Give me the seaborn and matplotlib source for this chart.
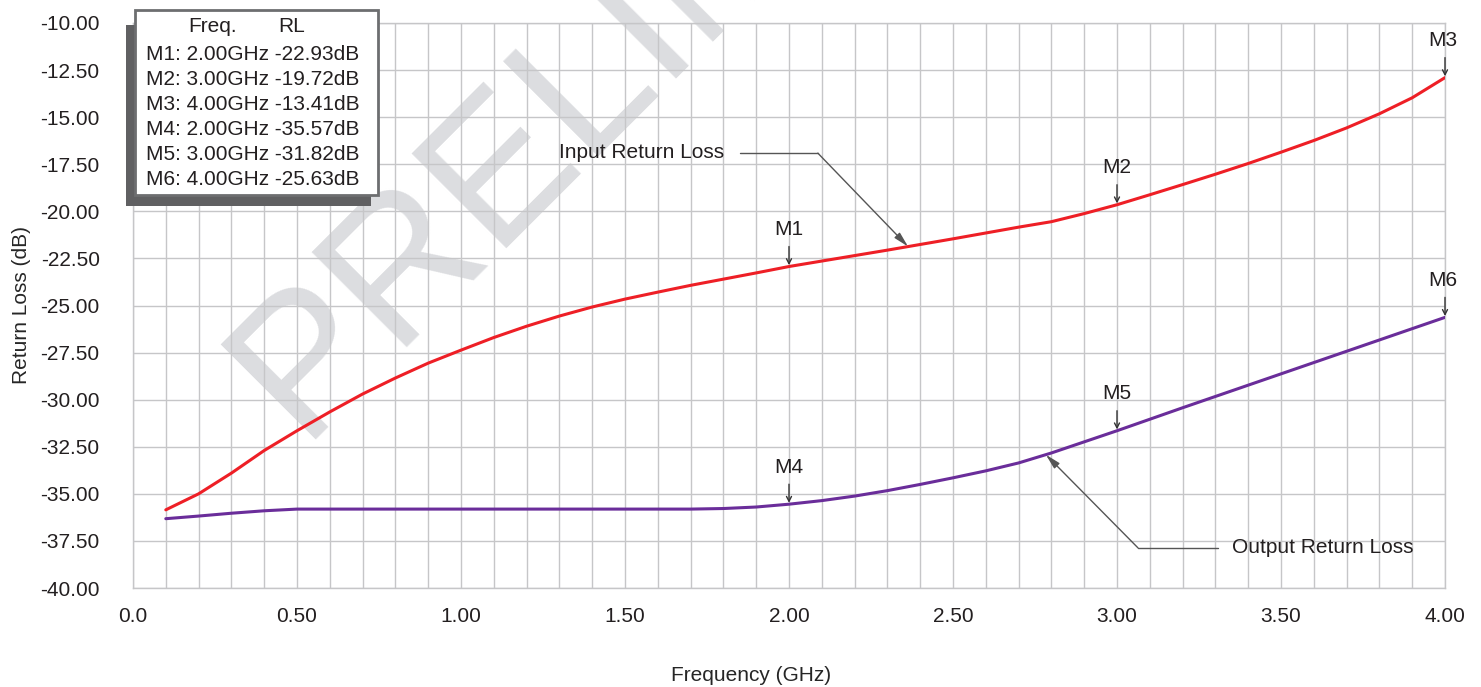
import numpy as np
import pandas as pd
import matplotlib
matplotlib.use('Agg')
import matplotlib.pyplot as plt
import seaborn as sns
from matplotlib.patches import Rectangle

# Datos (frecuencia en GHz, perdidas de retorno en dB)
freq = [0.1, 0.2, 0.3, 0.4, 0.5, 0.6, 0.7, 0.8, 0.9, 1.0,
        1.1, 1.2, 1.3, 1.4, 1.5, 1.6, 1.7, 1.8, 1.9, 2.0,
        2.1, 2.2, 2.3, 2.4, 2.5, 2.6, 2.7, 2.8, 2.9, 3.0,
        3.1, 3.2, 3.3, 3.4, 3.5, 3.6, 3.7, 3.8, 3.9, 4.0]
input_rl = [-35.85, -35.00, -33.90, -32.70, -31.65, -30.65, -29.70, -28.85, -28.06, -27.37,
            -26.70, -26.10, -25.56, -25.08, -24.66, -24.29, -23.93, -23.60, -23.27, -22.93,
            -22.64, -22.35, -22.06, -21.76, -21.46, -21.15, -20.84, -20.55, -20.12, -19.65,
            -19.12, -18.58, -18.03, -17.46, -16.86, -16.24, -15.57, -14.82, -13.97, -12.90]
output_rl = [-36.32, -36.18, -36.03, -35.90, -35.81, -35.81, -35.81, -35.81, -35.81, -35.81,
             -35.81, -35.81, -35.81, -35.81, -35.81, -35.81, -35.81, -35.78, -35.70, -35.55,
             -35.36, -35.12, -34.83, -34.50, -34.15, -33.78, -33.36, -32.83, -32.24, -31.65,
             -31.04, -30.43, -29.83, -29.23, -28.63, -28.03, -27.43, -26.83, -26.23, -25.63]

marker_names = ['M1', 'M2', 'M3', 'M4', 'M5', 'M6']
marker_freq = [2.0, 3.0, 4.0, 2.0, 3.0, 4.0]
marker_trace = ['Input', 'Input', 'Input', 'Output', 'Output', 'Output']
marker_rl = [-22.93, -19.72, -13.41, -35.57, -31.82, -25.63]

xtick_labels = ['0.0', '0.50', '1.00', '1.50', '2.00', '2.50', '3.00', '3.50', '4.00']
ytick_values = [-40.0, -37.5, -35.0, -32.5, -30.0, -27.5, -25.0, -22.5, -20.0, -17.5, -15.0, -12.5, -10.0]

df = pd.DataFrame({'freq': freq + freq,
                   'rl': input_rl + output_rl,
                   'trace': ['Input'] * len(freq) + ['Output'] * len(freq)})
curves = {'Input': input_rl, 'Output': output_rl}

sns.set_style('white')
plt.rcParams['font.family'] = ['Liberation Sans', 'DejaVu Sans']
plt.rcParams['text.color'] = '#231f20'

W, H = 1481, 687
fig = plt.figure(figsize=(W / 100, H / 100), dpi=100)
ax = fig.add_axes([133 / W, 1 - 588 / H, 1312 / W, 565 / H])

grid_c = '#c6c6c8'
# marca de agua
ax.text(0.507, -32.05, 'PRELIMINARY', rotation=45, rotation_mode='anchor',
        ha='left', va='baseline', fontsize=140, color='#dcdde0', zorder=0.4, clip_on=False)

sns.lineplot(data=df, x='freq', y='rl', hue='trace',
             palette={'Input': '#ee1f26', 'Output': '#6a2d9a'},
             lw=2.2, legend=False, ax=ax, zorder=3)

ax.set_xlim(0, 4)
ax.set_ylim(-40, -10)
ax.set_xticks(np.arange(0, 4.01, 0.5))
ax.set_xticklabels(xtick_labels)
ax.set_xticks(np.arange(0, 4.01, 0.1), minor=True)
ax.set_yticks(ytick_values)
ax.set_yticklabels([f'{v:.2f}' for v in ytick_values])
ax.grid(which='both', color=grid_c, lw=1)
ax.set_axisbelow(True)
ax.tick_params(axis='y', length=20, color=grid_c, width=1, pad=4, labelsize=15, labelcolor='#231f20')
ax.tick_params(axis='x', which='both', length=0, pad=14, labelsize=15, labelcolor='#231f20')
for s in ax.spines.values():
    s.set_color(grid_c)
    s.set_linewidth(1)

ax.set_xlabel('Frequency (GHz)', fontsize=15)
ax.set_ylabel('Return Loss (dB)', fontsize=15)
ax.xaxis.set_label_coords(0.471, -0.138)
ax.yaxis.set_label_coords(-0.078, 0.5)

# Marcadores M1..M6
for name, f, tr in zip(marker_names, marker_freq, marker_trace):
    yv = np.interp(f, freq, curves[tr])
    ax.annotate('', xy=(f, yv), xytext=(0, 20), xycoords='data', textcoords='offset pixels',
                arrowprops=dict(arrowstyle='->,head_length=0.35,head_width=0.18',
                                color='#333333', lw=1, shrinkA=0, shrinkB=1), zorder=4)
    ax.annotate(name, xy=(f, yv), xytext=(-2 if f == 4.0 else 0, 37), textcoords='offset pixels',
                ha='center', va='center', fontsize=15, zorder=4, annotation_clip=False)

# Etiquetas de las trazas
call_c = '#555555'
tip_in = (2.363, np.interp(2.363, freq, input_rl))
ax.plot([1.851, 2.088], [-16.91, -16.91], color=call_c, lw=1, zorder=4)
ax.annotate('', xy=tip_in, xytext=(2.088, -16.91),
            arrowprops=dict(arrowstyle='-|>,head_length=0.9,head_width=0.22', color=call_c,
                            lw=1, shrinkA=0, shrinkB=0), zorder=4)
ax.text(1.802, -16.86, 'Input Return Loss', ha='right', va='center', fontsize=15, zorder=4)

tip_out = (2.783, np.interp(2.783, freq, output_rl))
ax.plot([3.064, 3.308], [-37.87, -37.87], color=call_c, lw=1, zorder=4)
ax.annotate('', xy=tip_out, xytext=(3.064, -37.87),
            arrowprops=dict(arrowstyle='-|>,head_length=0.9,head_width=0.22', color=call_c,
                            lw=1, shrinkA=0, shrinkB=0), zorder=4)
ax.text(3.351, -37.87, 'Output Return Loss', ha='left', va='center', fontsize=15, zorder=4)

# Tabla de marcadores con sombra
def fx(px):
    return px / W

def fy(py):
    return 1 - py / H

fig.patches.append(Rectangle((fx(126), fy(206)), fx(371) - fx(126), fy(25) - fy(206),
                             transform=fig.transFigure, facecolor='#606062', edgecolor='none', zorder=5))
fig.patches.append(Rectangle((fx(135), fy(195)), fx(378) - fx(135), fy(10) - fy(195),
                             transform=fig.transFigure, facecolor='white', edgecolor='#6d6e70',
                             lw=2, zorder=6))
fig.text(fx(213), fy(32), 'Freq.', ha='center', va='baseline', fontsize=15, zorder=7)
fig.text(fx(292), fy(32), 'RL', ha='center', va='baseline', fontsize=15, zorder=7)
for i, (name, f, v) in enumerate(zip(marker_names, marker_freq, marker_rl)):
    fig.text(fx(146), fy(60 + 25 * i), f'{name}: {f:.2f}GHz {v:.2f}dB',
             ha='left', va='baseline', fontsize=15, zorder=7)

fig.savefig('out.png', dpi=100)
